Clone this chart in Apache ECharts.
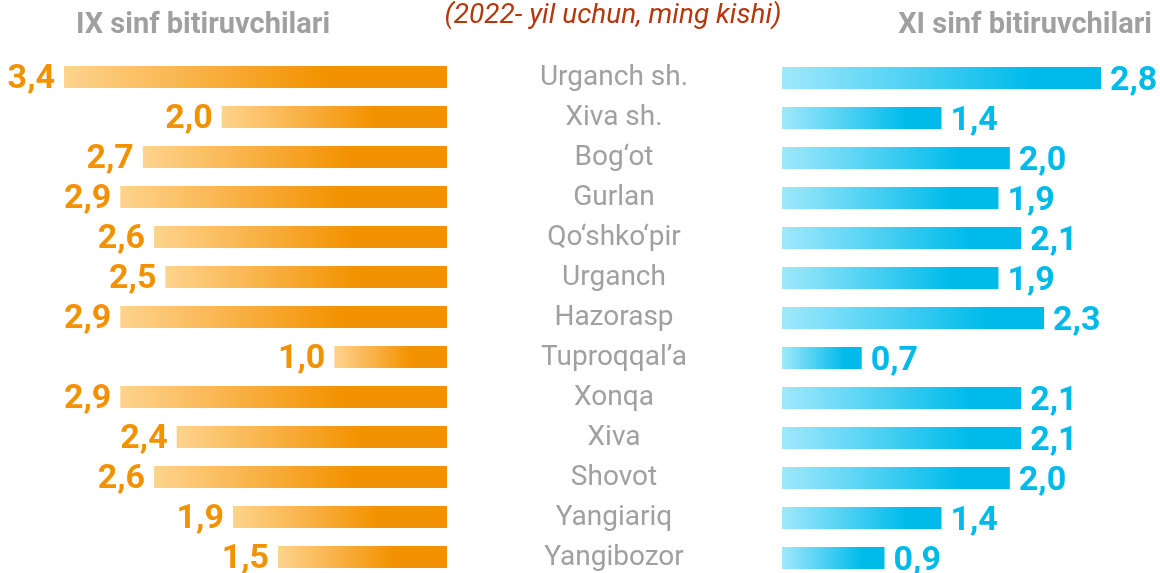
<!DOCTYPE html>
<html>
<head>
<meta charset="utf-8">
<title>Bitiruvchilar</title>
<script src="https://cdn.jsdelivr.net/npm/echarts@6/dist/echarts.min.js"></script>
<style>
  html, body { margin: 0; padding: 0; background: #fff; overflow: hidden; }
  #chart { width: 1160px; height: 580px; }
</style>
</head>
<body>
<div id="chart"></div>
<script>
// 2022-yil, ming kishi
const districts = ['Urganch sh.', 'Xiva sh.', 'Bog‘ot', 'Gurlan', 'Qo‘shko‘pir', 'Urganch', 'Hazorasp',
  'Tuproqqal’a', 'Xonqa', 'Xiva', 'Shovot', 'Yangiariq', 'Yangibozor']
const grade9 = [3.4, 2.0, 2.7, 2.9, 2.6, 2.5, 2.9, 1.0, 2.9, 2.4, 2.6, 1.9, 1.5]
const grade11 = [2.8, 1.4, 2.0, 1.9, 2.1, 1.9, 2.3, 0.7, 2.1, 2.1, 2.0, 1.4, 0.9]

const font = 'Roboto, sans-serif'
const fmt = p => p.value.toFixed(1).replace('.', ',')

// div is a bit taller than the window so the last row keeps a full 40px band
const chart = echarts.init(document.getElementById('chart'), null, { renderer: 'canvas' })

chart.setOption({
  animation: false,
  graphic: [
    {
      type: 'text', x: 76, y: 26,
      style: { text: 'IX sinf bitiruvchilari', font: 'bold 29px ' + font, fill: '#a0a0a0', verticalAlign: 'middle' }
    },
    {
      type: 'text', x: 613, y: 16,
      style: { text: '(2022- yil uchun, ming kishi)', font: 'italic 28px ' + font, fill: '#b5370d', align: 'center', verticalAlign: 'middle' }
    },
    {
      type: 'text', x: 1152, y: 26,
      style: { text: 'XI sinf bitiruvchilari', font: 'bold 29px ' + font, fill: '#a0a0a0', align: 'right', verticalAlign: 'middle' }
    }
  ],
  grid: [
    { left: 64, right: 713, top: 57, height: 520 },
    { left: 782, right: 59, top: 58, height: 520 }
  ],
  xAxis: [
    { gridIndex: 0, type: 'value', min: 0, max: 3.4, inverse: true, show: false },
    { gridIndex: 1, type: 'value', min: 0, max: 2.8, show: false }
  ],
  yAxis: [
    {
      gridIndex: 0, type: 'category', data: districts, inverse: true,
      axisLine: { show: false }, axisTick: { show: false }, axisLabel: { show: false }
    },
    {
      gridIndex: 1, type: 'category', data: districts, inverse: true,
      axisLine: { show: false }, axisTick: { show: false },
      axisLabel: {
        interval: 0, margin: 168, align: 'center', color: '#a0a0a0',
        fontFamily: font, fontSize: 28, padding: [0, 0, 4, 0]
      }
    }
  ],
  series: [
    {
      name: 'IX sinf', type: 'bar', xAxisIndex: 0, yAxisIndex: 0,
      data: grade9, barWidth: 22,
      itemStyle: {
        color: new echarts.graphic.LinearGradient(0, 0, 1, 0, [
          { offset: 0, color: '#fdd38e' },
          { offset: 0.68, color: '#f39200' },
          { offset: 1, color: '#f39200' }
        ])
      },
      label: {
        show: true, position: 'left', distance: 9, offset: [0, 2],
        formatter: fmt, color: '#f39200',
        fontFamily: font, fontWeight: 'bold', fontSize: 34
      }
    },
    {
      name: 'XI sinf', type: 'bar', xAxisIndex: 1, yAxisIndex: 1,
      data: grade11, barWidth: 22,
      itemStyle: {
        color: new echarts.graphic.LinearGradient(0, 0, 1, 0, [
          { offset: 0, color: '#a0e8fc' },
          { offset: 0.78, color: '#00bbea' },
          { offset: 1, color: '#00bbea' }
        ])
      },
      label: {
        show: true, position: 'right', distance: 9, offset: [0, 3],
        formatter: fmt, color: '#00bbea',
        fontFamily: font, fontWeight: 'bold', fontSize: 34
      }
    }
  ]
})
</script>
</body>
</html>
